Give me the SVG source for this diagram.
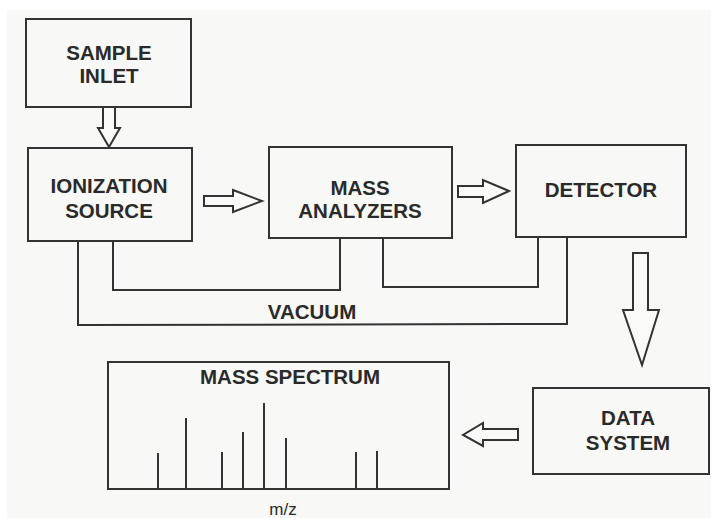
<svg xmlns="http://www.w3.org/2000/svg" width="711" height="518" viewBox="0 0 711 518">
<style>
.box{fill:none;stroke:#333;stroke-width:2}
.ln{fill:none;stroke:#333;stroke-width:2}
.arr{fill:#fafaf8;stroke:#333;stroke-width:2;stroke-linejoin:miter}
.pk{stroke:#333;stroke-width:2}
.t{font-family:"Liberation Sans",Arial,sans-serif;font-weight:bold;font-size:20.5px;fill:#2a2a2a;text-anchor:middle}
.s{font-family:"Liberation Sans",Arial,sans-serif;font-size:17px;fill:#2a2a2a;text-anchor:middle}
</style>
<rect x="0" y="0" width="711" height="518" fill="#f8f8f6"/>
<rect x="0" y="0" width="711" height="10" fill="#ffffff"/>
<rect x="0" y="0" width="7" height="518" fill="#ffffff"/>
<g id="sample-inlet">
<rect class="box" x="26" y="19" width="165" height="88"/>
<text class="t" x="109" y="60">SAMPLE</text>
<text class="t" x="109" y="83">INLET</text>
</g>
<g id="ionization-source">
<rect class="box" x="28" y="148" width="164" height="93"/>
<text class="t" x="109" y="193">IONIZATION</text>
<text class="t" x="109" y="218">SOURCE</text>
</g>
<g id="mass-analyzers">
<rect class="box" x="269" y="147" width="183" height="91"/>
<text class="t" x="360" y="195">MASS</text>
<text class="t" x="360" y="218">ANALYZERS</text>
</g>
<g id="detector">
<rect class="box" x="516" y="145" width="170" height="92"/>
<text class="t" x="601" y="197">DETECTOR</text>
</g>
<g id="data-system">
<rect class="box" x="533" y="388" width="176" height="86"/>
<text class="t" x="628" y="425">DATA</text>
<text class="t" x="628" y="450">SYSTEM</text>
</g>
<g id="mass-spectrum">
<rect class="box" x="108" y="362" width="341" height="127"/>
<text class="t" x="290" y="384">MASS SPECTRUM</text>
<line class="pk" x1="158" y1="453" x2="158" y2="489"/>
<line class="pk" x1="186" y1="418" x2="186" y2="489"/>
<line class="pk" x1="222" y1="452" x2="222" y2="489"/>
<line class="pk" x1="243" y1="432" x2="243" y2="489"/>
<line class="pk" x1="264" y1="403" x2="264" y2="489"/>
<line class="pk" x1="286" y1="438" x2="286" y2="489"/>
<line class="pk" x1="356" y1="452" x2="356" y2="489"/>
<line class="pk" x1="377" y1="451" x2="377" y2="489"/>
<text class="s" x="283" y="515">m/z</text>
</g>
<g id="connectors">
<polygon class="arr" points="103,107 115,107 115,128 120,128 109,147 98,128 103,128"/>
<polygon class="arr" points="204,196 233,196 233,190 262,201 233,212 233,206 204,206"/>
<polygon class="arr" points="458,186 483,186 483,180 509,191 483,203 483,197 458,197"/>
<polygon class="arr" points="633,253 648,253 648,310 659,310 642,365 623,310 633,310"/>
<polygon class="arr" points="518,429 483,429 483,423 463,435 483,446 483,440 518,440"/>
<polyline class="ln" points="113,241 113,290 340,290 340,238"/>
<polyline class="ln" points="383,238 383,287 538,287 538,237"/>
<polyline class="ln" points="78,241 78,325 567,324 567,237"/>
<text class="t" x="312" y="319">VACUUM</text>
</g>
</svg>
